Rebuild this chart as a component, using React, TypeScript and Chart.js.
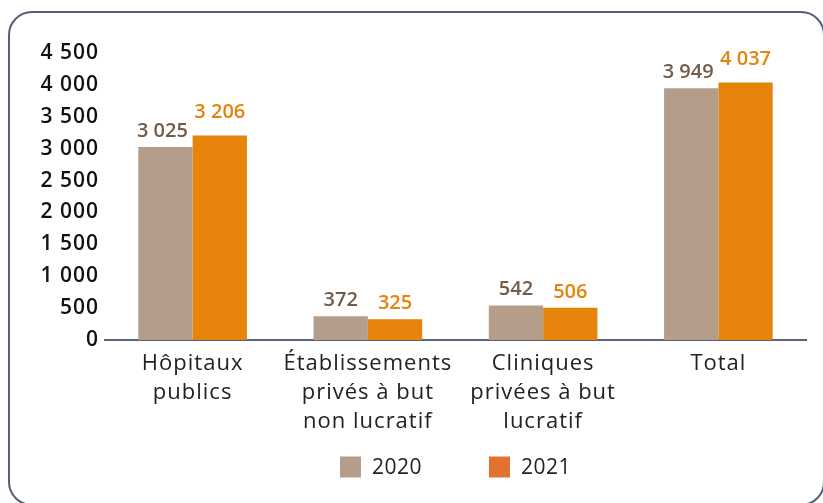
import React, { useEffect, useRef } from "react";
import { Chart, registerables } from "chart.js";

Chart.register(...registerables);

const categories: string[][] = [
  ["Hôpitaux", "publics"],
  ["Établissements", "privés à but", "non lucratif"],
  ["Cliniques", "privées à but", "lucratif"],
  ["Total"],
];
const values2020: number[] = [3025, 372, 542, 3949];
const values2021: number[] = [3206, 325, 506, 4037];
const seriesNames: string[] = ["2020", "2021"];
const yMax = 4500;
const yStep = 500;

const FONT = "'Open Sans', 'Noto Sans', sans-serif";
const barColors = ["#b59d8b", "#e5830b"];
const labelColors = ["#735b45", "#e5830b"];
const legendColors = ["#b59d8b", "#e2722f"];

const fmt = (v: number) =>
  String(Math.round(v)).replace(/\B(?=(\d{3})+(?!\d))/g, " ");

const spacingPlugin = {
  id: "letterSpacing",
  beforeDraw(chart: any) {
    (chart.ctx as any).letterSpacing = "1px";
  },
};

const dataLabelPlugin = {
  id: "dataLabels",
  afterDatasetsDraw(chart: any) {
    const ctx = chart.ctx;
    ctx.save();
    (ctx as any).letterSpacing = "0px";
    ctx.font = `600 20px ${FONT}`;
    ctx.textAlign = "center";
    ctx.textBaseline = "alphabetic";
    chart.data.datasets.forEach((ds: any, di: number) => {
      const meta = chart.getDatasetMeta(di);
      meta.data.forEach((bar: any, i: number) => {
        const txt = fmt(ds.data[i]);
        const w = ctx.measureText(txt).width;
        const wide = w > bar.width * 0.85;
        let x = bar.x;
        let y = bar.y - 10;
        if (wide && di === 0) x -= 3;
        if (wide && di === 1) y -= 8;
        ctx.fillStyle = labelColors[di];
        ctx.fillText(txt, x, y);
      });
    });
    ctx.restore();
  },
};

const legendPlugin = {
  id: "customLegend",
  afterDraw(chart: any) {
    const ctx = chart.ctx;
    const area = chart.chartArea;
    ctx.save();
    (ctx as any).letterSpacing = "0.5px";
    ctx.font = `400 21px ${FONT}`;
    const box = 21;
    const gap = 11;
    const spacing = 67;
    const widths = seriesNames.map((n) => box + gap + ctx.measureText(n).width);
    const total = widths.reduce((a, b) => a + b, 0) + spacing * (seriesNames.length - 1);
    let x = (area.left + area.right) / 2 - total / 2;
    const cy = area.bottom + 127;
    seriesNames.forEach((n, i) => {
      ctx.fillStyle = legendColors[i];
      ctx.fillRect(x, cy - box / 2, box, box);
      ctx.fillStyle = "#222222";
      ctx.textAlign = "left";
      ctx.textBaseline = "middle";
      ctx.fillText(n, x + box + gap, cy + 1);
      x += widths[i] + spacing;
    });
    ctx.restore();
  },
};

export default function App() {
  const ref = useRef<HTMLCanvasElement | null>(null);
  useEffect(() => {
    document.documentElement.style.overflow = "hidden";
    document.body.style.overflow = "hidden";
    if (!ref.current) return;
    const chart = new Chart(ref.current, {
      type: "bar",
      data: {
        labels: categories,
        datasets: [
          {
            label: seriesNames[0],
            data: values2020,
            backgroundColor: barColors[0],
            categoryPercentage: 0.62,
            barPercentage: 1,
          },
          {
            label: seriesNames[1],
            data: values2021,
            backgroundColor: barColors[1],
            categoryPercentage: 0.62,
            barPercentage: 1,
          },
        ],
      },
      options: {
        animation: false,
        responsive: false,
        maintainAspectRatio: false,
        layout: { padding: { top: 40, right: 15, left: 0, bottom: 0 } },
        plugins: {
          legend: { display: false },
          tooltip: { enabled: false },
        },
        scales: {
          x: {
            grid: { display: false, drawTicks: false },
            border: { display: true, color: "#5a6374", width: 2 },
            ticks: {
              color: "#222222",
              font: { family: FONT, size: 22, weight: "400", lineHeight: 1.32 },
              padding: 9,
              maxRotation: 0,
              autoSkip: false,
            },
            afterFit(scale: any) {
              scale.height = 161;
            },
          },
          y: {
            min: 0,
            max: yMax,
            grid: { display: false, drawTicks: false },
            border: { display: false },
            ticks: {
              stepSize: yStep,
              color: "#111111",
              font: { family: FONT, size: 21, weight: "600" },
              padding: 6,
              callback: (v: any) => fmt(Number(v)),
            },
            afterFit(scale: any) {
              scale.width = 95;
            },
          },
        },
      },
      plugins: [spacingPlugin, dataLabelPlugin, legendPlugin],
    });
    return () => chart.destroy();
  }, []);

  return (
    <div
      style={{
        position: "absolute",
        left: 8,
        top: 11,
        width: 817,
        height: 495,
        border: "2px solid #566072",
        borderRadius: 24,
        boxSizing: "border-box",
        background: "#ffffff",
      }}
    >
      <canvas ref={ref} width={811} height={488} style={{ display: "block" }} />
    </div>
  );
}
